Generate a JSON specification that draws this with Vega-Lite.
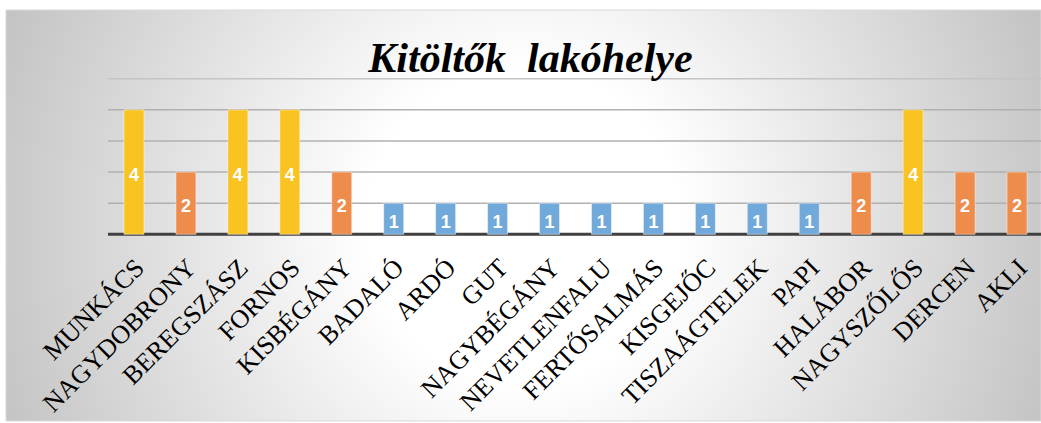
{
  "$schema": "https://vega.github.io/schema/vega-lite/v6.json",
  "width": 1035,
  "height": 411,
  "autosize": {"type": "none"},
  "padding": {"left": 6, "top": 10, "right": 0, "bottom": 2},
  "background": "#ffffff",
  "config": {"view": {"stroke": null}},
  "title": {
    "text": "Kitöltők\u00a0 lakóhelye",
    "font": "Liberation Serif",
    "fontSize": 42,
    "fontWeight": "bold",
    "fontStyle": "italic",
    "color": "#000000",
    "anchor": "middle",
    "frame": "group",
    "baseline": "alphabetic",
    "offset": -62,
    "dx": 7,
    "dy": 42
  },
  "data": {
    "values": [
      {"place": "MUNKÁCS", "n": 4},
      {"place": "NAGYDOBRONY", "n": 2},
      {"place": "BEREGSZÁSZ", "n": 4},
      {"place": "FORNOS", "n": 4},
      {"place": "KISBÉGÁNY", "n": 2},
      {"place": "BADALÓ", "n": 1},
      {"place": "ARDÓ", "n": 1},
      {"place": "GUT", "n": 1},
      {"place": "NAGYBÉGÁNY", "n": 1},
      {"place": "NEVETLENFALU", "n": 1},
      {"place": "FERTŐSALMÁS", "n": 1},
      {"place": "KISGEJŐC", "n": 1},
      {"place": "TISZAÁGTELEK", "n": 1},
      {"place": "PAPI", "n": 1},
      {"place": "HALÁBOR", "n": 2},
      {"place": "NAGYSZŐLŐS", "n": 4},
      {"place": "DERCEN", "n": 2},
      {"place": "AKLI", "n": 2}
    ]
  },
  "resolve": {"scale": {"y": "independent"}},
  "layer": [
    {
      "data": {"values": [{}]},
      "mark": {
        "type": "rect",
        "stroke": "#d9d9d9",
        "strokeWidth": 1,
        "fill": {
          "gradient": "radial",
          "x1": 0.5, "y1": 0.51, "r1": 0,
          "x2": 0.5, "y2": 0.51, "r2": 0.56,
          "stops": [
            {"offset": 0, "color": "#ffffff"},
            {"offset": 0.27, "color": "#ffffff"},
            {"offset": 1, "color": "#c0c0c0"}
          ]
        }
      },
      "encoding": {
        "x": {"value": 0},
        "x2": {"value": "width"},
        "y": {"value": 0},
        "y2": {"value": "height"}
      }
    },
    {
      "data": {"values": [{"v": 1}, {"v": 2}, {"v": 3}, {"v": 4}]},
      "mark": {"type": "rule", "stroke": "#b0b0b0", "strokeWidth": 1.5},
      "encoding": {
        "x": {"datum": "MUNKÁCS", "type": "nominal", "bandPosition": -0.8, "axis": null,
              "scale": {"type": "band", "domain": ["MUNKÁCS","NAGYDOBRONY","BEREGSZÁSZ","FORNOS","KISBÉGÁNY","BADALÓ","ARDÓ","GUT","NAGYBÉGÁNY","NEVETLENFALU","FERTŐSALMÁS","KISGEJŐC","TISZAÁGTELEK","PAPI","HALÁBOR","NAGYSZŐLŐS","DERCEN","AKLI"], "range": [102, 1037], "paddingInner": 0.615, "paddingOuter": 0.3075}},
        "x2": {"datum": "AKLI", "bandPosition": 1.8},
        "y": {"field": "v", "type": "quantitative", "axis": null, "scale": {"domain": [-6, 7.21], "nice": false, "zero": false}}
      }
    },
    {
      "data": {"values": [{"v": 5}]},
      "mark": {"type": "rule", "stroke": "#c4c4c4", "strokeWidth": 1.5},
      "encoding": {
        "x": {"datum": "MUNKÁCS", "type": "nominal", "bandPosition": -0.8, "axis": null},
        "x2": {"datum": "AKLI", "bandPosition": 1.8},
        "y": {"field": "v", "type": "quantitative", "axis": null, "scale": {"domain": [-6, 7.21], "nice": false, "zero": false}}
      }
    },
    {
      "data": {"values": [{"v": 0}]},
      "mark": {"type": "rule", "stroke": "#404040", "strokeWidth": 3},
      "encoding": {
        "x": {"datum": "MUNKÁCS", "type": "nominal", "bandPosition": -0.8, "axis": null},
        "x2": {"datum": "AKLI", "bandPosition": 1.8},
        "y": {"field": "v", "type": "quantitative", "axis": null, "scale": {"domain": [-6, 7.21], "nice": false, "zero": false}}
      }
    },
    {
      "mark": {"type": "bar", "stroke": "#ffffff", "strokeOpacity": 0.45, "strokeWidth": 1},
      "encoding": {
        "x": {"field": "place", "type": "nominal", "sort": null, "axis": null},
        "y": {"field": "n", "type": "quantitative", "axis": null, "scale": {"domain": [-6, 7.21], "nice": false, "zero": false}},
        "color": {"field": "n", "type": "nominal", "legend": null,
                  "scale": {"domain": [4, 2, 1], "range": ["#F9C322", "#EE8C4C", "#72A9DB"]}}
      }
    },
    {
      "mark": {"type": "text", "angle": -45, "align": "right", "baseline": "middle", "font": "Liberation Serif", "fontSize": 26, "color": "#000000"},
      "encoding": {
        "x": {"field": "place", "type": "nominal", "sort": null, "axis": null, "bandPosition": 0.8},
        "y": {"datum": -0.95, "type": "quantitative", "axis": null, "scale": {"domain": [-6, 7.21], "nice": false, "zero": false}},
        "text": {"field": "place"}
      }
    },
    {
      "mark": {"type": "text", "align": "center", "baseline": "middle", "dy": 4, "font": "Liberation Sans", "fontSize": 18, "fontWeight": "bold", "color": "#ffffff"},
      "encoding": {
        "x": {"field": "place", "type": "nominal", "sort": null, "axis": null},
        "y": {"field": "n", "type": "quantitative", "axis": null, "scale": {"domain": [-12, 14.42], "nice": false, "zero": false}},
        "text": {"field": "n"}
      }
    }
  ]
}
